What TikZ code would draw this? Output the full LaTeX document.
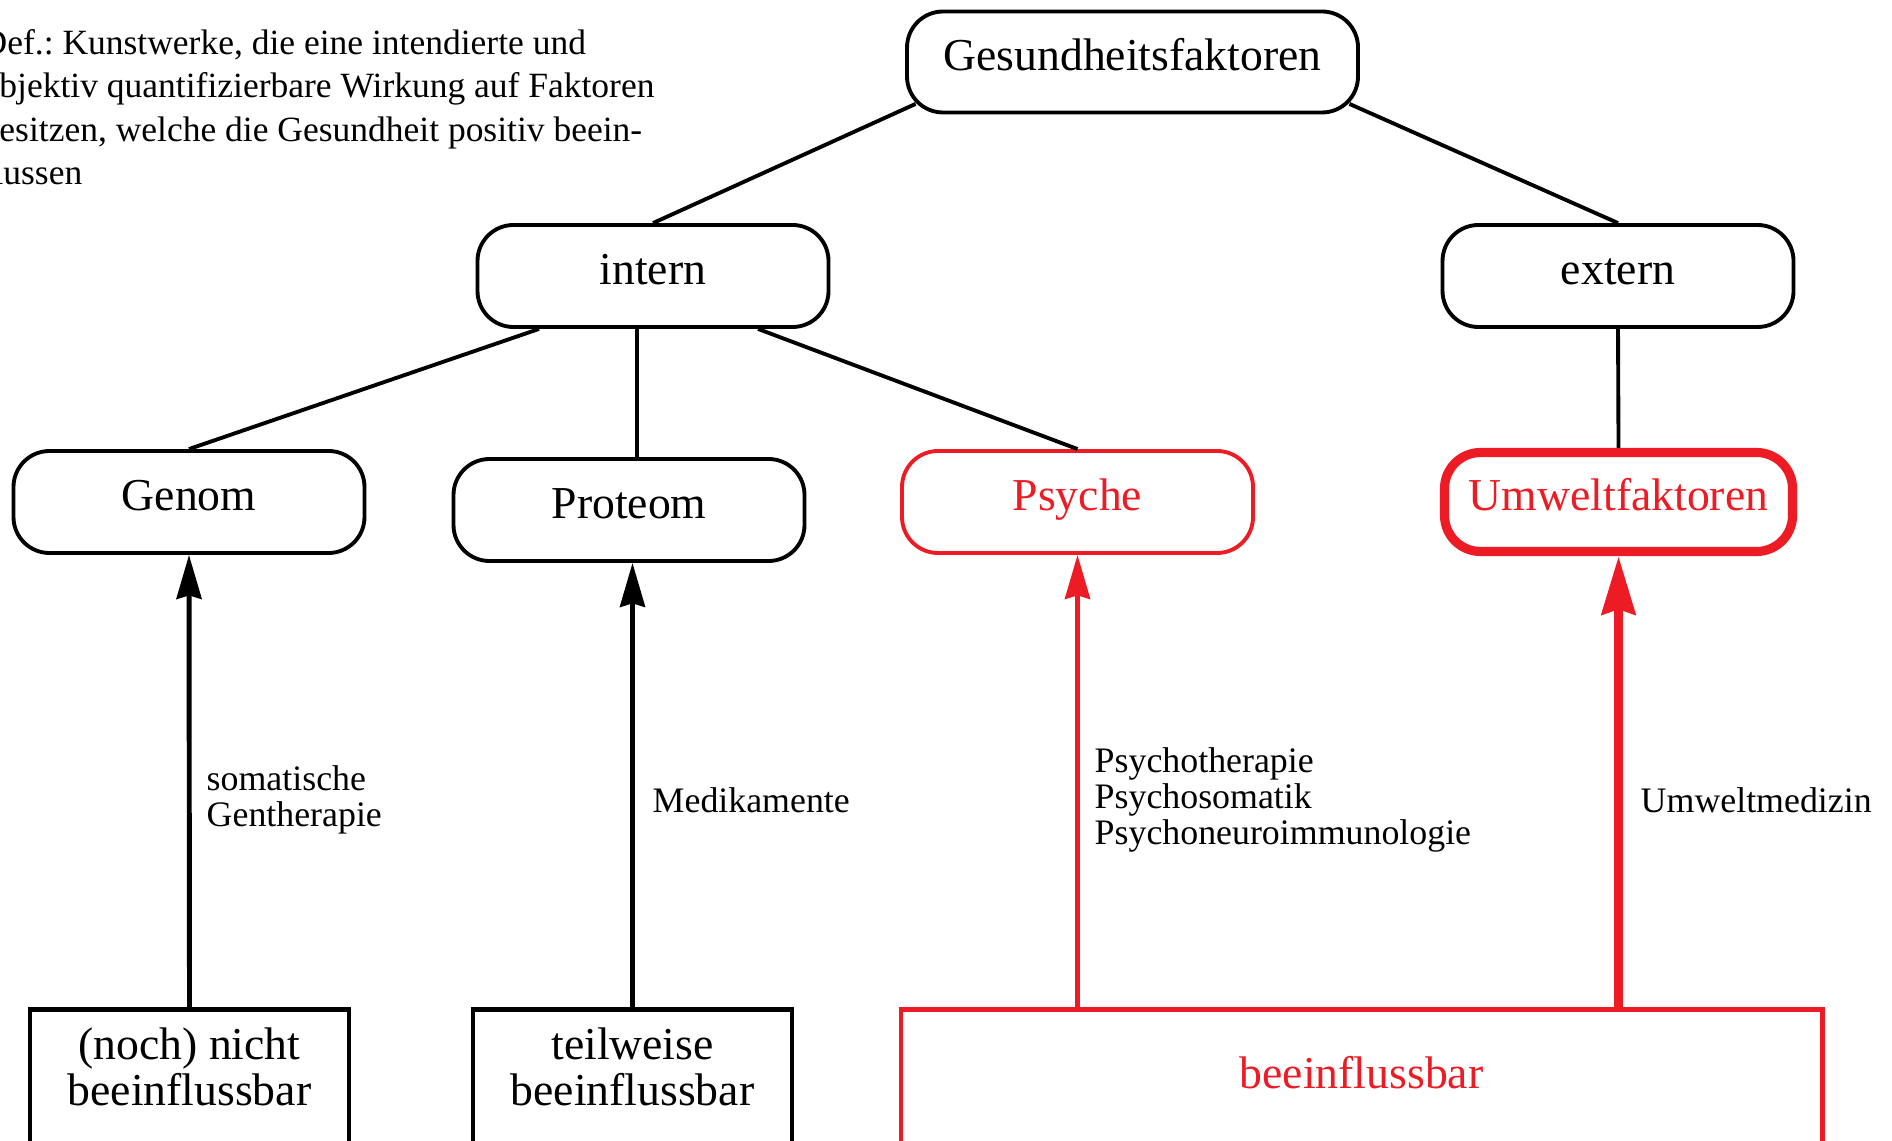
\documentclass[tikz,border=0pt]{standalone}
\usepackage{fontspec}
\setmainfont{Liberation Serif}
\usetikzlibrary{arrows.meta,calc}
\definecolor{hred}{HTML}{ED1C24}
\frenchspacing

\begin{document}
\begin{tikzpicture}[
    factor/.style = {draw, line width=1.1pt, rounded corners=0.36cm, fill=white,
                     minimum width=3.51cm, minimum height=1.02cm,
                     font=\fontsize{13}{13}\selectfont, text height=0.68em, text depth=0.22em},
    effect/.style = {draw, line width=1.4pt, anchor=north, inner ysep=0.18cm,
                     text depth=2cm, align=center, font=\fontsize{13}{13.1}\selectfont},
    lab/.style = {anchor=west, inner sep=0pt, align=left, font=\fontsize{10.2}{10.2}\selectfont},
    deftext/.style = {anchor=north west, inner sep=0pt, align=left, font=\fontsize{10.1}{12.4}\selectfont},
    tline/.style = {line width=1.1pt},
    arr/.style = {line width=1.4pt, -{Stealth[length=12.5pt, width=7.1pt, inset=1pt]}},
    arrthick/.style = {line width=2.8pt, hred, -{Stealth[length=16.5pt, width=9.4pt, inset=1.4pt]}}
  ]
  \useasboundingbox (0,0) rectangle (18.92,11.40);

  \node[deftext] (def) at (-0.19,11.115) {Def.: Kunstwerke, die eine intendierte und\\objektiv quantifizierbare Wirkung auf Faktoren\\besitzen, welche die Gesundheit positiv beein-\\flussen};

  \node[factor, minimum width=4.51cm, minimum height=1.01cm] (gesund) at (11.325,10.78) {Gesundheitsfaktoren};
  \node[factor] (intern)  at (6.53,8.64)  {intern};
  \node[factor] (extern)  at (16.18,8.64) {extern};
  \node[factor] (genom)   at (1.89,6.38)  {Genom};
  \node[factor] (proteom) at (6.29,6.30)  {Proteom};
  \node[factor, draw=hred, text=hred] (psyche) at (10.775,6.38) {Psyche};
  \node[factor, draw=hred, text=hred, line width=2.6pt, minimum width=3.48cm, minimum height=0.99cm] (umwelt) at (16.185,6.38) {Umweltfaktoren};

  \node[effect, minimum width=3.19cm] (nicht) at (1.895,1.33) {(noch) nicht\\beeinflussbar};
  \node[effect, minimum width=3.19cm] (teil)  at (6.325,1.33) {teilweise\\beeinflussbar};
  \node[effect, minimum width=9.21cm, draw=hred, text=hred, text height=0.61cm] (bee) at (13.615,1.33) {beeinflussbar};

  \draw[tline] ($(gesund.south west)+(0.105,0.105)$) -- (intern.north);
  \draw[tline] ($(gesund.south east)+(-0.105,0.105)$) -- (extern.north);
  \draw[tline] ($(intern.south)+(-1.14,0)$) -- (genom.north);
  \coordinate (ip) at ($(intern.south)+(-0.16,0)$);
  \draw[tline] (ip) -- (ip |- proteom.north);
  \draw[tline] ($(intern.south)+(1.05,0)$) -- (psyche.north);
  \draw[tline] (extern.south) -- (umwelt.north);

  \draw[arr] (nicht.north) -- (genom.south);
  \draw[arr] (teil.north) -- (teil.north |- proteom.south);
  \draw[arr, hred] (psyche.south |- bee.north) -- (psyche.south);
  \draw[arrthick] (umwelt.south |- bee.north) -- (umwelt.south);

  \node[lab] (lgen) at (2.06,3.40)  {somatische\\Gentherapie};
  \node[lab] (lmed) at (6.52,3.40)  {Medikamente};
  \node[lab] (lpsy) at (10.94,3.40) {Psychotherapie\\Psychosomatik\\Psychoneuroimmunologie};
  \node[lab] (lumw) at (16.40,3.40) {Umweltmedizin};
\end{tikzpicture}
\end{document}
